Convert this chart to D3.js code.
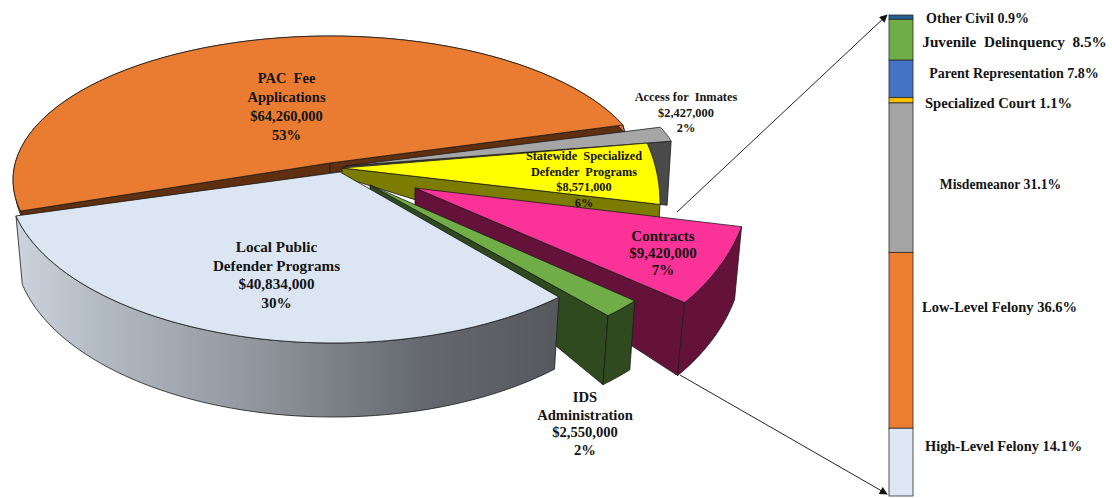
<!DOCTYPE html>
<html>
<head>
<meta charset="utf-8">
<script src="https://cdn.jsdelivr.net/npm/d3@7/dist/d3.min.js"></script>
<style>
  html, body { margin: 0; padding: 0; background: #fff; }
  svg { display: block; }
  text { font-family: "Liberation Serif", "Times New Roman", serif; font-weight: bold; fill: #141414; text-anchor: middle; white-space: pre; }
</style>
</head>
<body>
<svg id="chart" width="1112" height="498"></svg>
<script>
// Indigent defense budget: how the appropriation is split between programs
const programNames = ["PAC Fee Applications", "Access for Inmates", "Statewide Specialized Defender Programs", "Contracts", "IDS Administration", "Local Public Defender Programs"];
const programAmounts = [64260000, 2427000, 8571000, 9420000, 2550000, 40834000];
const programShares = ["53%", "2%", "6%", "7%", "2%", "30%"];

// Breakdown of the contracts slice by case type, top of the column first
const caseTypes = ["Other Civil", "Juvenile  Delinquency ", "Parent Representation", "Specialized Court", "Misdemeanor", "Low-Level Felony", "High-Level Felony"];
const caseShares = [0.9, 8.5, 7.8, 1.1, 31.1, 36.6, 14.1];

const topColors = ["#ea7c31", "#a6a6a6", "#ffff00", "#fb3399", "#70ad47", "#dce6f2"];
const wallColors = ["#5f2f10", "#4a4a4a", "#7c7c00", "#65123a", "#2f4a1e", "#5a6066"];
const caseColors = ["#255e91", "#70ad47", "#4472c4", "#ffc000", "#a5a5a5", "#ed7d31", "#dee8f4"];

const fmt = d3.format("$,");
const svg = d3.select("#chart");
const rad = Math.PI / 180;

// Side gradient of the large front slice
const grad = svg.append("defs").append("linearGradient")
  .attr("id", "frontWall").attr("gradientUnits", "userSpaceOnUse")
  .attr("x1", 16).attr("x2", 558).attr("y1", 0).attr("y2", 0);
[[0, "#ccd3dd"], [0.15, "#b3bbc5"], [0.45, "#8f959c"], [0.75, "#65696f"], [1, "#55585d"]].forEach(([o, c]) =>
  grad.append("stop").attr("offset", o).attr("stop-color", c));

// Slice angles come straight from the amounts, clockwise from the left end of the top slice
const pie = d3.pie().sort(null).startAngle(254 * rad).endAngle((254 + 360) * rad);
const arcs = pie(programAmounts);

// Oblique view: each exploded wedge has its own tip and its own projected rim ellipse
const views = [
  { tip: [330, 163], tipDepth: 10, cx: 330, cy: 180, rx: 317, ry: 144, turn: -1.8, squeeze: 0.941, dx: 2, depth: 8, rim: true, cuts: ["start", "end"] },
  { tip: [345, 166], tipDepth: 6, cx: 236, cy: 159, rx: 440, ry: 120, dx: -4, depth: 64, rim: false, cuts: ["end"] },
  { tip: [342, 168], tipDepth: 9, cx: 505, cy: 203, rx: 155, ry: 150, turn: -15, dx: -4, depth: 70, rim: false, cuts: ["end"] },
  { tip: [415, 188], tipDepth: 17, cx: 493, cy: 176, rx: 258, ry: 189, dx: -7, depth: 73, rim: true, cuts: ["end"] },
  { tip: [370, 185], tipDepth: 8, cx: 412, cy: 187, rx: 300, ry: 170, dx: -5, depth: 69, rim: true, cuts: ["end"] },
  { tip: [340, 172], tipDepth: 10, cx: 333, cy: 180, rx: 325, ry: 163, squeeze: 1.057, dx: 0, depth: 67, shrinkX: 0.98, shrinkY: 1.043, rim: true, cuts: [], wallFill: "url(#frontWall)" }
];

const rimPoint = (v, arc, a, lower) => {
  const mid = (arc.startAngle + arc.endAngle) / 2;
  const t = mid + (a - mid) * (v.squeeze || 1) + (v.turn || 0) * rad;
  const kx = lower && v.shrinkX ? v.shrinkX : 1;
  const ky = lower && v.shrinkY ? v.shrinkY : 1;
  return [
    v.cx + (lower ? v.dx : 0) + v.rx * kx * Math.sin(t),
    v.cy + (lower ? v.depth : 0) - v.ry * ky * Math.cos(t)
  ];
};
const rim = (v, arc, a0, a1, lower) => d3.range(0, 61).map(i => rimPoint(v, arc, a0 + (a1 - a0) * i / 60, lower));
const line = d3.line();

const pieLayer = svg.append("g");
arcs.forEach((arc, i) => {
  const v = views[i];
  const g = pieLayer.append("g").attr("stroke", "#1a1a1a").attr("stroke-width", 0.8).attr("stroke-linejoin", "round");

  // Cut faces run from the tip out to the rim
  v.cuts.forEach(which => {
    const a = which === "start" ? arc.startAngle : arc.endAngle;
    g.append("path")
      .attr("fill", wallColors[i])
      .attr("d", line([v.tip, rimPoint(v, arc, a), rimPoint(v, arc, a, true), [v.tip[0], v.tip[1] + v.tipDepth]]) + "Z");
  });
  // Curved outer wall
  if (v.rim) {
    g.append("path")
      .attr("fill", v.wallFill || (i === 0 ? "#d96f28" : wallColors[i]))
      .attr("d", line(rim(v, arc, arc.startAngle, arc.endAngle).concat(rim(v, arc, arc.endAngle, arc.startAngle, true))) + "Z");
  }
  // Top face
  g.append("path")
    .attr("fill", topColors[i])
    .attr("d", line([v.tip].concat(rim(v, arc, arc.startAngle, arc.endAngle))) + "Z");
});

// Text blocks on and around the pie
const pieLabels = [
  { of: 0, lines: ["PAC  Fee", "Applications"], x: 286.5, y: 83, lead: 19, size: 14.5 },
  { of: 1, lines: ["Access for  Inmates"], x: 686, y: 101, lead: 15.5, size: 12.4 },
  { of: 2, lines: ["Statewide  Specialized", "Defender  Programs"], x: 584, y: 160, lead: 15.5, size: 12.3 },
  { of: 3, lines: ["Contracts"], x: 663, y: 241, lead: 17.2, size: 15 },
  { of: 4, lines: ["IDS", "Administration"], x: 585, y: 402, lead: 17.5, size: 14.6 },
  { of: 5, lines: ["Local Public", "Defender Programs"], x: 276.5, y: 252, lead: 18.7, size: 15.2 }
];
pieLabels.forEach(l => {
  const rows = l.lines.concat([fmt(programAmounts[l.of]), programShares[l.of]]);
  svg.append("g").selectAll("text").data(rows).join("text")
    .attr("x", l.x)
    .attr("y", (d, j) => l.y + j * l.lead)
    .attr("font-size", l.size)
    .text(d => d);
});

// Stacked column for the contracts breakdown
const barY = d3.scaleLinear().domain([0, d3.sum(caseShares)]).range([15, 496]);
let running = 0;
const stack = caseShares.map(s => { const r = [running, running + s]; running += s; return r; });
svg.append("g").selectAll("rect").data(stack).join("rect")
  .attr("x", 889).attr("width", 24)
  .attr("y", d => barY(d[0]))
  .attr("height", d => barY(d[1]) - barY(d[0]))
  .attr("fill", (d, i) => caseColors[i])
  .attr("stroke", "#2a2a2a").attr("stroke-width", 0.8);

const caseLabelStyle = [
  { x: 977.5, y: 23, size: 14 },
  { x: 1014.5, y: 47, size: 15.2 },
  { x: 1014, y: 78, size: 14 },
  { x: 998.5, y: 108, size: 14.6 },
  { x: 1000.5, y: 189, size: 13.7 },
  { x: 999.5, y: 312, size: 14.5 },
  { x: 1003.5, y: 451, size: 14.4 }
];
svg.append("g").selectAll("text").data(caseTypes).join("text")
  .attr("x", (d, i) => caseLabelStyle[i].x)
  .attr("y", (d, i) => caseLabelStyle[i].y)
  .attr("font-size", (d, i) => caseLabelStyle[i].size)
  .text((d, i) => `${d} ${caseShares[i]}%`);

// Leader arrows tying the contracts slice to the column
svg.append("defs").append("marker")
  .attr("id", "head").attr("viewBox", "0 0 10 10").attr("refX", 9).attr("refY", 5)
  .attr("markerWidth", 9).attr("markerHeight", 8).attr("markerUnits", "userSpaceOnUse").attr("orient", "auto")
  .append("path").attr("d", "M0,0L10,5L0,10Z").attr("fill", "#111");
const leaders = [[[677, 212], [887, 15]], [[680, 375], [887, 494]]];
svg.append("g").selectAll("path").data(leaders).join("path")
  .attr("d", d => line(d))
  .attr("stroke", "#222").attr("stroke-width", 1).attr("fill", "none")
  .attr("marker-end", "url(#head)");
</script>
</body>
</html>
